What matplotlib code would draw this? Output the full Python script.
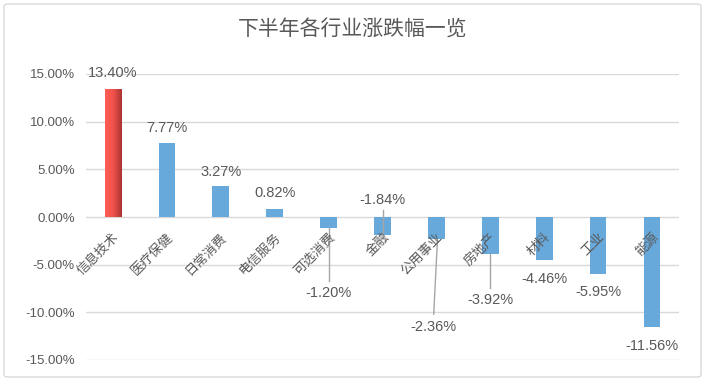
import matplotlib
matplotlib.use("Agg")
import matplotlib.pyplot as plt
import numpy as np
from matplotlib.patches import FancyBboxPatch

plt.rcParams['font.family'] = ['Liberation Sans', 'Noto Sans CJK SC', 'DejaVu Sans']

# data
industries = ['信息技术', '医疗保健', '日常消费', '电信服务', '可选消费', '金融',
              '公用事业', '房地产', '材料', '工业', '能源']
changes = [13.40, 7.77, 3.27, 0.82, -1.20, -1.84, -2.36, -3.92, -4.46, -5.95, -11.56]
# where each value label sits (data units), some pulled away with a leader line
label_y = [15.1, 9.35, 4.75, 2.5, -7.97, 1.8, -11.5, -8.7, -6.5, -7.87, -13.5]
label_dx = [0, 0, 0, 0, 0, 0, -0.05, 0, 0, 0, 0]
leaders = [4, 5, 6, 7]

blue = '#68A9DC'
grey_txt = '#595959'
grid_c = '#D9D9D9'

W, H = 707, 381
fig = plt.figure(figsize=(W / 100, H / 100), dpi=100)

# chart border
fig.patches.append(FancyBboxPatch((4 / W, 4 / H), 697 / W, 373 / H,
                                  boxstyle='round,pad=0,rounding_size=0.006',
                                  transform=fig.transFigure, fill=False,
                                  edgecolor=grid_c, linewidth=1.0))

ax = fig.add_axes([86 / W, (H - 360) / H, (679 - 86) / W, (360 - 74) / H])
x = np.arange(len(industries))
bars = ax.bar(x, changes, width=0.31, color=blue, zorder=2)

# gradient on the first bar
b0 = bars[0]
b0.set_facecolor('none')
grad = np.linspace(0, 1, 64).reshape(1, -1)
cmap = matplotlib.colors.LinearSegmentedColormap.from_list('r', ['#FF5E55', '#F0524A', '#A93434'])
im = ax.imshow(grad, cmap=cmap, aspect='auto', zorder=2,
               extent=[b0.get_x(), b0.get_x() + b0.get_width(), 0, b0.get_height()])
im.set_clip_path(b0)

ax.set_xlim(-0.5, len(industries) - 0.5)
ax.set_ylim(-15, 15)
ax.set_yticks(np.arange(-15, 16, 5))
ax.set_yticklabels(['%.2f%%' % v for v in np.arange(-15, 16, 5)], fontsize=9.5, color=grey_txt)
ax.tick_params(axis='y', length=0, pad=8)
ax.set_xticks([])
ax.grid(axis='y', color=grid_c, linewidth=1.0, zorder=0)
for s in ax.spines.values():
    s.set_visible(False)

for i, (v, ly) in enumerate(zip(changes, label_y)):
    lx = i + label_dx[i]
    ax.text(lx, ly, '%.2f%%' % v, ha='center', va='center', fontsize=10.5, color=grey_txt, zorder=4)
    if i in leaders:
        end = ly - 1.1 if ly > v else ly + 1.3
        if ly > v:
            ax.plot([i, i], [end, v], color='#A6A6A6', linewidth=1.0, zorder=3)
        else:
            ax.plot([i + 0.02 * (lx != i), lx], [v, end], color='#A6A6A6', linewidth=1.0, zorder=3)

# category labels rotated at the zero line
for i, name in enumerate(industries):
    ax.text(i + 0.08, -1.9, name, rotation=45, rotation_mode='anchor', ha='right', va='center',
            fontsize=9.5, color=grey_txt, family=['Noto Sans CJK SC'], zorder=4)

fig.text(353 / W, 1 - 30 / H, '下半年各行业涨跌幅一览', ha='center', va='center',
         fontsize=15, color=grey_txt, family=['Noto Sans CJK SC'])

fig.savefig('out.png', dpi=100)
